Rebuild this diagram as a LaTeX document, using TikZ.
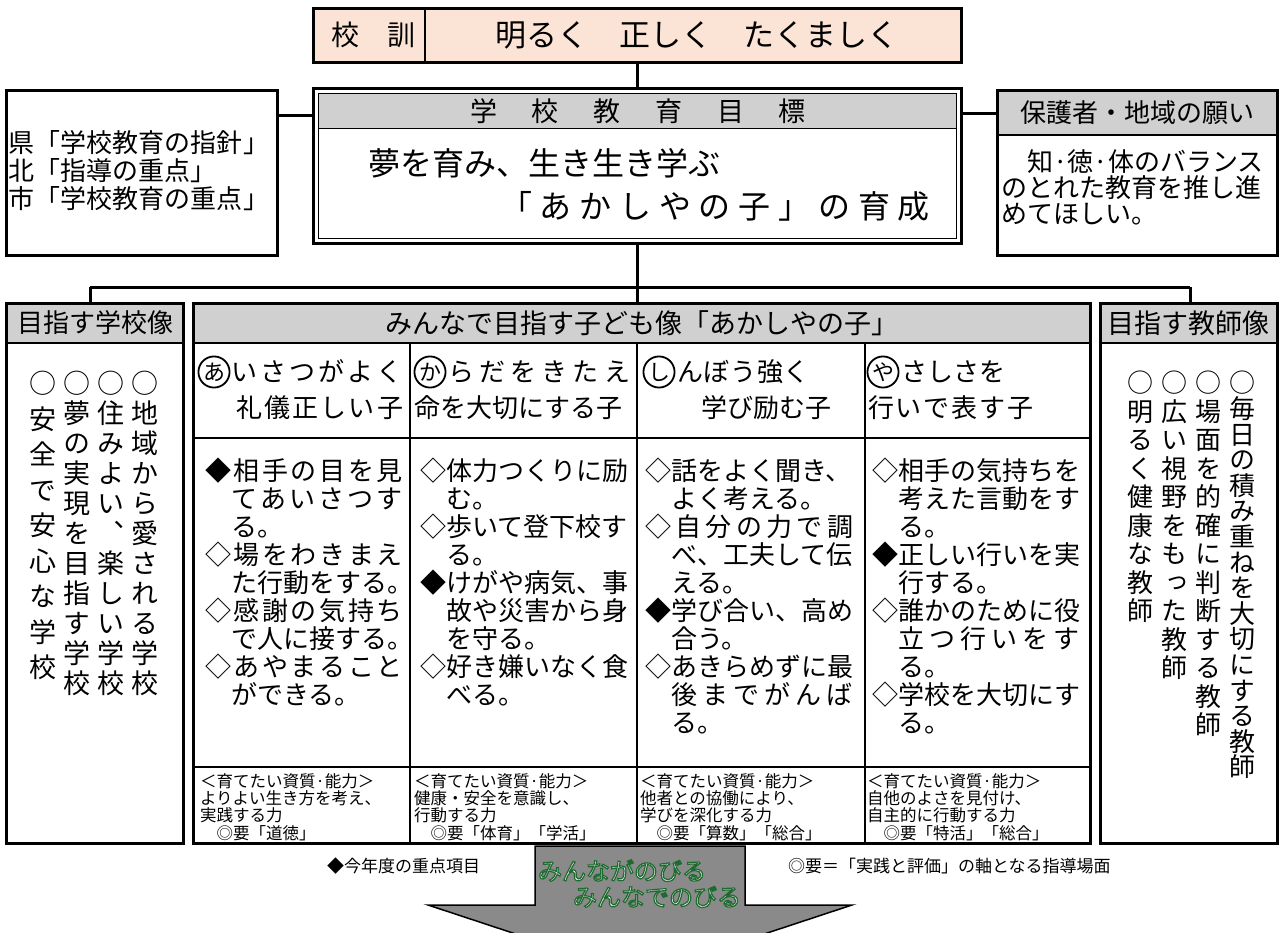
\documentclass[tikz,border=0pt]{standalone}
\usepackage{fontspec}
\setmainfont{Noto Sans CJK JP}
\newfontfamily\vjp[RawFeature=+vert]{Noto Sans CJK JP}
\newfontfamily\popfont[FakeBold=5]{Noto Sans CJK JP}
\definecolor{peach}{HTML}{FBE4D5}
\definecolor{hdrgray}{HTML}{D0D0D0}
\definecolor{arrgray}{HTML}{8A8A8A}
\definecolor{dgreen}{HTML}{1E6B30}
\newcommand\fsz[2]{\fontsize{#1}{#2}\selectfont\lineskiplimit=-100pt\relax}
\newcommand\firstl{\rule{0pt}{.88em}}
\def\gobx#1{}
\def\sprd#1{\sprdA#1\relax}
\def\sprdA#1#2{#1\ifx\relax#2\expandafter\gobx\else\hfil\expandafter\sprdA\fi#2}
\def\vst#1{\vstA#1\relax}
\def\vstA#1#2{#1\ifx\relax#2\expandafter\gobx\else\\\expandafter\vstA\fi#2}
\newcommand\spbox[2]{\hbox to #1pt{\sprd{#2}}}
\newcommand\ispbox[2]{\hbox to #1pt{\kern1em\sprd{#2}}}
\newcommand\poptext[1]{\special{pdf:bcolor [1 1 1] [0.118 0.42 0.188]}#1\special{pdf:ecolor}}
\begin{document}
\begin{tikzpicture}[x=1pt,y=-1pt,
 every node/.style={inner sep=0pt,outer sep=0pt},
 frame/.style={draw,line width=3pt},
 rule/.style={line width=2pt},
 conn/.style={line width=3pt},
 jt/.style={font=\fsz{#1}{#1}, text height={0.88*#1pt}, text depth={0.12*#1pt}},
 cell/.style={anchor=north west, align=left, font=\fsz{26}{28}},
 small/.style={anchor=north west, align=left, font=\fsz{16.5}{17.3}},
 vcol/.style 2 args={anchor=north, align=center, font={\vjp\fsz{#1}{#2}}},
 circ/.style={circle, draw, line width=1.8pt, minimum size=31pt, font=\fsz{22}{22}, text height=19.4pt, text depth=2.6pt},
 pop/.style={font={\popfont\fsz{24}{24}}, text height=21pt, text depth=3pt}
]
\fill[white] (0,0) rectangle (1282,932);
\useasboundingbox (0,0) rectangle (1282,932);

% ---------- school motto ----------
\node[frame, fill=peach, anchor=north west, minimum width=648pt, minimum height=54pt] (kokun) at (313,8) {};
\draw[line width=1.5pt] (425,8) -- (425,62);
\node[jt=28] (kk) at (373,35) {校　訓};
\node[jt=31] (motto) at (697,35) {明るく　正しく　たくましく};

% ---------- school goal ----------
\fill[hdrgray] (318,93) rectangle (956,128);
\node[frame, anchor=north west, minimum width=648pt, minimum height=155pt] (goal) at (313,88) {};
\draw[line width=1pt] (318,93) rectangle (956,238);
\draw[line width=1pt] (318,128) -- (956,128);
\node[jt=27] (goalh) at (638,111) {\spbox{336}{学校教育目標}};
\node[jt=32, anchor=west] (goal1) at (368,163) {夢を育み、生き生き学ぶ};
\node[jt=32, anchor=west] (goal2) at (500,206) {\spbox{430}{「あかしやの子」の育成}};

% ---------- prefecture box ----------
\node[frame, anchor=north west, minimum width=271pt, minimum height=165pt] (ken) at (6,90) {};
\node[cell] (kent) at (9,130) {\firstl 県「学校教育の指針」\\北「指導の重点」\\市「学校教育の重点」};

% ---------- parents box ----------
\fill[hdrgray] (997,90) rectangle (1277,135);
\node[frame, anchor=north west, minimum width=280pt, minimum height=165pt] (hogo) at (997,90) {};
\draw[line width=2.5pt] (997,135) -- (1277,135);
\node[jt=26] (hogoh) at (1137,113) {保護者・地域の願い};
\node[cell, font=\fsz{26}{26}] (hogot) at (1001,149) {\firstl 　知·徳·体のバランス\\のとれた教育を推し進\\めてほしい。};

% ---------- connectors (top) ----------
\coordinate (lk) at (0,115);
\coordinate (rk) at (0,113);
\draw[conn] (kokun.south) -- (goal.north);
\draw[conn] (ken.east |- lk) -- (goal.west |- lk);
\draw[conn] (goal.east |- rk) -- (hogo.west |- rk);

% ---------- lower boxes ----------
\fill[hdrgray] (6,303) rectangle (183,343);
\fill[hdrgray] (193,303) rectangle (1090,343);
\fill[hdrgray] (1100,303) rectangle (1277,343);
\node[frame, anchor=north west, minimum width=177pt, minimum height=540pt] (school) at (6,303) {};
\node[frame, anchor=north west, minimum width=897pt, minimum height=540pt] (child) at (193,303) {};
\node[frame, anchor=north west, minimum width=177pt, minimum height=540pt] (teacher) at (1100,303) {};
\draw[line width=2.5pt] (6,343) -- (183,343);
\draw[line width=2.5pt] (1100,343) -- (1277,343);
\draw[line width=2.5pt] (193,343) -- (1090,343);
\draw[rule] (193,438) -- (1090,438);
\draw[rule] (193,767) -- (1090,767);
\draw[rule] (410,343) -- (410,843);
\draw[rule] (637,343) -- (637,843);
\draw[rule] (865,343) -- (865,843);

% bus
\coordinate (busL) at (90,287);
\coordinate (busR) at (1190,287);
\draw[conn] (goal.south) -- (goal.south |- child.north);
\draw[conn] (busL) -- (busR);
\draw[conn] (busL) -- (busL |- school.north);
\draw[conn] (busR) -- (busR |- teacher.north);

% headers
\node[jt=26] (schoolh) at (95,323) {目指す学校像};
\node[jt=27] (childh) at (642,323) {みんなで目指す子ども像「あかしやの子」};
\node[jt=27] (teacherh) at (1188,323) {目指す教師像};

% vertical columns: school
\node[vcol={27}{30}] (s1) at (145,370) {\firstl\vst{○地域から愛される学校}};
\node[vcol={27}{30}] (s2) at (111,370) {\firstl\vst{○住みよい、楽しい学校}};
\node[vcol={27}{30}] (s3) at (77,370) {\firstl\vst{○夢の実現を目指す学校}};
\node[vcol={27}{35.5}] (s4) at (43,370) {\firstl\vst{○安全で安心な学校}};

% vertical columns: teacher
\node[vcol={26}{25.6}] (t1) at (1242,370) {\firstl\vst{○毎日の積み重ねを大切にする教師}};
\node[vcol={26}{28.5}] (t2) at (1208,370) {\firstl\vst{○場面を的確に判断する教師}};
\node[vcol={26}{28.5}] (t3) at (1174,370) {\firstl\vst{○広い視野をもった教師}};
\node[vcol={26}{28.5}] (t4) at (1140,370) {\firstl\vst{○明るく健康な教師}};

% sub headers
\node[circ] (ca) at (214,372) {あ};
\node[jt=26, anchor=west] (h1a) at (231,372) {\spbox{172}{いさつがよく}};
\node[jt=26, anchor=west] (h1b) at (236,408) {\spbox{167}{礼儀正しい子}};
\node[circ] (cb) at (430,372) {か};
\node[jt=26, anchor=west] (h2a) at (448,372) {\spbox{182}{らだをきたえ}};
\node[jt=26, anchor=west] (h2b) at (414,408) {命を大切にする子};
\node[circ] (cc) at (659,372) {し};
\node[jt=26, anchor=west] (h3a) at (677,372) {\spbox{133}{んぼう強く}};
\node[jt=26, anchor=west] (h3b) at (701,408) {学び励む子};
\node[circ] (cd) at (883,372) {や};
\node[jt=26, anchor=west] (h4a) at (901,372) {さしさを};
\node[jt=26, anchor=west] (h4b) at (868,408) {\spbox{166}{行いで表す子}};

% content cells
\node[cell] (c1) at (205,458) {\firstl\spbox{198}{◆相手の目を見}\\
\ispbox{198}{てあいさつす}\\
　る。\\
\spbox{198}{◇場をわきまえ}\\
　た行動をする。\\
\spbox{198}{◇感謝の気持ち}\\
　で人に接する。\\
\spbox{198}{◇あやまること}\\
　ができる。};
\node[cell] (c2) at (420,458) {\firstl◇体力つくりに励\\
　む。\\
◇歩いて登下校す\\
　る。\\
◆けがや病気、事\\
　故や災害から身\\
　を守る。\\
◇好き嫌いなく食\\
　べる。};
\node[cell] (c3) at (645,458) {\firstl◇話をよく聞き、\\
　よく考える。\\
\spbox{208}{◇自分の力で調}\\
　べ、工夫して伝\\
　える。\\
◆学び合い、高め\\
　合う。\\
◇あきらめずに最\\
\ispbox{208}{後までがんば}\\
　る。};
\node[cell] (c4) at (872,458) {\firstl◇相手の気持ちを\\
　考えた言動をす\\
　る。\\
◆正しい行いを実\\
　行する。\\
◇誰かのために役\\
\ispbox{208}{立つ行いをす}\\
　る。\\
◇学校を大切にす\\
　る。};

% competence cells
\node[small] (b1) at (200,772.7) {\firstl＜育てたい資質·能力＞\\よりよい生き方を考え、\\実践する力\\　◎要「道徳」};
\node[small] (b2) at (414,772.7) {\firstl＜育てたい資質·能力＞\\健康・安全を意識し、\\行動する力\\　◎要「体育」「学活」};
\node[small] (b3) at (640,772.7) {\firstl＜育てたい資質·能力＞\\他者との協働により、\\学びを深化する力\\　◎要「算数」「総合」};
\node[small] (b4) at (867,772.7) {\firstl＜育てたい資質·能力＞\\自他のよさを見付け、\\自主的に行動する力\\　◎要「特活」「総合」};

% bottom arrow
\draw[fill=arrgray, line width=1.5pt] (535,846) -- (745,846) -- (745,905) -- (852,905) -- (640,975) -- (428,905) -- (535,905) -- cycle;
\node[pop] (ar1) at (622,871) {\poptext{みんながのびる}};
\node[pop] (ar2) at (657,897) {\poptext{みんなでのびる}};

% legend
\node[jt=17, anchor=west] (lg1) at (327,866) {◆今年度の重点項目};
\node[jt=17, anchor=west] (lg2) at (788,866) {◎要＝「実践と評価」の軸となる指導場面};
\end{tikzpicture}
\end{document}
